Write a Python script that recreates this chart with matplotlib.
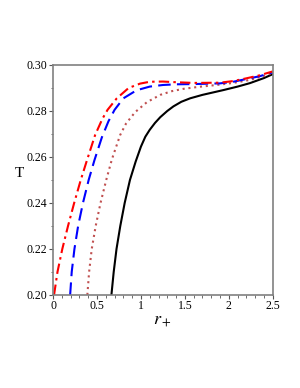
import numpy as np
import matplotlib
matplotlib.use("Agg")
import matplotlib.pyplot as plt
from matplotlib.ticker import MultipleLocator, FuncFormatter

plt.rcParams['font.family'] = ['Liberation Serif', 'DejaVu Serif']
plt.rcParams['mathtext.fontset'] = 'stix'

# values
r_solid = [0.664, 0.69, 0.722, 0.765, 0.815, 0.875, 0.94, 1.00, 1.05, 1.10, 1.16, 1.22, 1.30,
           1.37, 1.46, 1.56, 1.70, 1.94, 2.10, 2.24, 2.40, 2.50]
T_solid = [0.200, 0.210, 0.220, 0.230, 0.240, 0.250, 0.258, 0.2645, 0.2688, 0.2718, 0.2748,
           0.2773, 0.2800, 0.2820, 0.2840, 0.2855, 0.2870, 0.2891, 0.2906, 0.2921, 0.2943, 0.2960]

r_dot = [0.39, 0.41, 0.44, 0.485, 0.54, 0.605, 0.668, 0.763, 0.83, 0.934, 1.067, 1.22, 1.35,
         1.48, 1.66, 1.86, 2.05, 2.24, 2.40, 2.50]
T_dot = [0.200, 0.210, 0.220, 0.230, 0.240, 0.250, 0.2588, 0.2695, 0.2745, 0.2795, 0.2838,
         0.2870, 0.2886, 0.2896, 0.2905, 0.2913, 0.2922, 0.2935, 0.2952, 0.2966]

r_dash = [0.194, 0.212, 0.243, 0.285, 0.34, 0.405, 0.47, 0.555, 0.63, 0.70, 0.80, 0.95, 1.10,
          1.25, 1.4, 1.6, 1.9, 2.05, 2.2, 2.35, 2.5]
T_dash = [0.200, 0.210, 0.220, 0.230, 0.240, 0.250, 0.2585, 0.2685, 0.2755, 0.2805, 0.2855,
          0.2890, 0.2906, 0.2913, 0.2916, 0.2917, 0.2920, 0.2927, 0.2939, 0.2951, 0.2968]

r_dashdot = [0.011, 0.05, 0.105, 0.17, 0.24, 0.315, 0.385, 0.478, 0.56, 0.62, 0.725, 0.86,
             0.99, 1.10, 1.25, 1.4, 1.6, 1.9, 2.05, 2.2, 2.35, 2.5]
T_dashdot = [0.200, 0.210, 0.220, 0.230, 0.240, 0.250, 0.2585, 0.2695, 0.2765, 0.2805, 0.2855,
             0.2900, 0.2919, 0.2927, 0.2928, 0.2925, 0.2922, 0.2923, 0.2930, 0.2942, 0.2955,
             0.2972]

fig = plt.figure(figsize=(3.0, 3.88), dpi=100)
ax = fig.add_axes([0.177, 0.24, 0.732, 0.5925])

ax.plot(r_solid, T_solid, color='black', lw=1.5, ls='-')
ax.plot(r_dot, T_dot, color='#c05050', lw=1.5, ls=(0, (1, 1.8)))
ax.plot(r_dash, T_dash, color='#0000ff', lw=1.5, ls=(0, (6, 3)))
ax.plot(r_dashdot, T_dashdot, color='#ff0000', lw=1.5, ls=(0, (5, 2, 1.2, 2)))

ax.set_xlim(0, 2.5)
ax.set_ylim(0.20, 0.30)
ax.xaxis.set_major_locator(MultipleLocator(0.5))
ax.xaxis.set_minor_locator(MultipleLocator(0.1))
ax.yaxis.set_major_locator(MultipleLocator(0.02))
ax.yaxis.set_minor_locator(MultipleLocator(0.01))
ax.xaxis.set_major_formatter(FuncFormatter(lambda v, p: f"{v:g}"))
ax.yaxis.set_major_formatter(FuncFormatter(lambda v, p: f"{v:.2f}"))

for s in ax.spines.values():
    s.set_color('#808080')
    s.set_linewidth(1.2)
ax.tick_params(which='major', direction='out', length=3, width=0.8, color='#555555',
               labelsize=8.5, pad=1)
ax.tick_params(which='minor', direction='out', length=1.8, width=0.6, color='#555555')

ax.set_ylabel('T', fontsize=11, rotation=0, labelpad=5)
ax.set_xlabel(r'$r_+$', fontsize=13, labelpad=0)

fig.savefig('out.png', dpi=100)
